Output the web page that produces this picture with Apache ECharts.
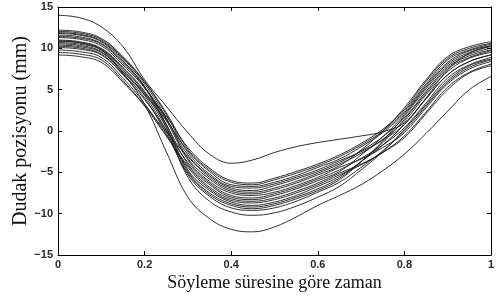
<!doctype html>
<html lang="tr">
<head>
    <meta charset="UTF-8">
    <title>Dudak pozisyonu</title>
    <style>
        * {
            margin: 0;
            padding: 0;
        }

        body {
            background: #fff;
        }

        #chart {
            width: 501px;
            height: 302px;
        }
    </style>
</head>
<body>
<script src="https://cdn.jsdelivr.net/npm/echarts@6/dist/echarts.min.js"></script>
<div id="chart"></div>

<script type="application/javascript">
    // normalised time grid (0 .. 1, step 0.05)
    const timeGrid = [0, 0.05, 0.1, 0.15, 0.2, 0.25, 0.3, 0.35, 0.4, 0.45, 0.5,
        0.55, 0.6, 0.65, 0.7, 0.75, 0.8, 0.85, 0.9, 0.95, 1];

    const xTicks = [0, 0.2, 0.4, 0.6, 0.8, 1];
    const yTicks = [-15, -10, -5, 0, 5, 10, 15];

    // lip position (mm), one array per repetition
    const rep01 = [14, 13.7, 12.6, 10.2, 6.2, 3.0, -0.2, -2.8, -3.9, -3.5, -2.6, -1.9, -1.4, -1.0, -0.6, -0.1, 1.0, 4.0, 7.4, 9.4, 10.3];
    const rep02 = [12.2, 12.0, 11.2, 9.0, 6.0, 2.2, -2.2, -4.7, -6.2, -6.5, -5.9, -5.1, -4.2, -3.1, -1.7, 0.0, 2.4, 5.7, 8.6, 9.8, 10.5];
    const rep03 = [11.9, 11.7, 10.9, 8.7, 5.7, 1.6, -3.3, -5.8, -7.3, -7.6, -7.1, -6.3, -5.3, -4.2, -2.3, 0.0, 2.8, 6.2, 9.0, 10.2, 10.8];
    const rep04 = [11.6, 11.4, 10.6, 8.4, 5.4, 0.8, -4.7, -7.2, -8.6, -9.0, -8.6, -7.8, -6.7, -5.5, -3.7, -1.7, 0.8, 3.9, 6.8, 8.4, 9.2];
    const rep05 = [11.3, 11.1, 10.3, 8.0, 5.2, 1.5, -2.9, -5.4, -6.9, -7.2, -6.6, -5.8, -4.9, -3.8, -2.4, -0.7, 1.6, 4.8, 7.7, 9.1, 9.8];
    const rep06 = [11.0, 10.8, 10.0, 7.7, 4.8, 0.8, -4.0, -6.5, -8.0, -8.3, -7.8, -7.0, -6.0, -4.9, -2.9, -0.7, 2.0, 5.3, 8.1, 9.5, 10.2];
    const rep07 = [10.7, 10.5, 9.8, 7.4, 4.3, 0.0, -5.3, -7.9, -9.3, -9.6, -9.3, -8.5, -7.4, -6.2, -4.4, -2.4, 0.0, 3.0, 5.9, 7.7, 8.6];
    const rep08 = [10.4, 10.2, 9.5, 7.1, 4.4, 1.3, -2.4, -4.9, -6.5, -6.7, -6.2, -5.4, -4.4, -3.4, -1.9, -0.2, 2.2, 5.5, 8.3, 9.7, 10.3];
    const rep09 = [10.1, 9.9, 9.2, 6.8, 3.8, 0.1, -3.8, -6.3, -7.8, -8.1, -7.6, -6.8, -5.8, -4.7, -3.3, -1.7, 0.4, 3.4, 6.4, 8.0, 8.9];
    const rep10 = [9.8, 9.6, 8.9, 6.4, 3.3, -0.5, -4.4, -7.0, -8.4, -8.7, -8.3, -7.5, -6.5, -5.3, -4.1, -2.6, -0.6, 2.3, 5.3, 7.1, 8.1];
    const rep11 = [9.5, 9.3, 8.6, 6.1, 3.1, -0.1, -3.1, -5.6, -7.1, -7.4, -6.9, -6.1, -5.1, -4.0, -2.7, -1.0, 1.2, 4.4, 7.2, 8.8, 9.5];
    const rep12 = [9.2, 9.0, 8.3, 5.9, 3.0, -0.6, -4.2, -6.8, -8.2, -8.5, -8.1, -7.3, -6.3, -5.1, -4.0, -2.6, -0.8, 2.1, 5.0, 7.0, 7.9];
    const rep13 = [11.8, 11.6, 10.8, 8.5, 5.3, 0.5, -5.6, -8.5, -9.8, -10.2, -9.9, -9.1, -8.0, -6.7, -4.7, -2.5, 0.2, 3.2, 6.1, 7.9, 8.7];
    const rep14 = [10.85, 10.65, 9.9, 7.6, 4.6, 0.4, -4.9, -7.5, -8.8, -9.2, -8.8, -8.0, -7.0, -5.7, -3.7, -1.4, 1.4, 4.6, 7.5, 8.9, 9.7];
    const rep15 = [11.45, 11.25, 10.5, 8.2, 5.3, 1.3, -3.5, -6.1, -7.5, -7.8, -7.4, -6.6, -5.6, -4.4, -3.4, -2.0, -0.2, 2.8, 5.7, 7.5, 8.4];
    const rep16 = [12.05, 11.85, 11.05, 8.85, 5.9, 2.0, -2.6, -5.2, -6.7, -6.9, -6.4, -5.6, -4.7, -3.6, -2.5, -1.1, 0.8, 3.9, 6.8, 8.4, 9.2];
    const rep17 = [10.25, 10.05, 9.3, 6.9, 4.0, -0.3, -5.1, -7.7, -9.0, -9.4, -9.0, -8.2, -7.2, -5.9, -3.7, -1.2, 1.8, 5.1, 7.9, 9.3, 10.0];
    const rep18 = [10.55, 10.35, 9.6, 7.2, 4.6, 1.8, -2.0, -4.5, -6.0, -6.3, -5.7, -4.9, -4.0, -2.9, -1.5, 0.2, 2.6, 6.0, 8.8, 10.0, 10.6];
    const rep19 = [10.9, 10.7, 9.8, 7.0, 3.2, -2.5, -8.0, -10.6, -11.9, -12.2, -11.6, -10.4, -9.0, -7.8, -6.5, -4.8, -2.8, -0.3, 2.4, 5.0, 6.6];

    const repetitions = [rep01, rep02, rep03, rep04, rep05, rep06, rep07, rep08, rep09, rep10,
        rep11, rep12, rep13, rep14, rep15, rep16, rep17, rep18, rep19];

    const fmtNum = function (v) {
        return String(v).replace('-', '\u2212');
    };

    const tickLabel = {
        fontFamily: 'Liberation Sans',
        fontWeight: 'bold',
        fontSize: 11,
        color: '#2a2a2a'
    };

    const chart = echarts.init(document.getElementById('chart'), null, {renderer: 'canvas'});

    const lineSeries = repetitions.map(function (rep) {
        return {
            type: 'line',
            data: rep.map(function (v, i) {
                return [timeGrid[i], v];
            }),
            smooth: 0.4,
            symbol: 'none',
            silent: true,
            lineStyle: {color: '#1a1a1a', width: 1, opacity: 0.9}
        };
    });

    const frameAxis = {
        axisLine: {show: true, onZero: false, lineStyle: {color: '#000', width: 1}},
        axisTick: {show: true, inside: true, length: 4, lineStyle: {color: '#000'}},
        splitLine: {show: false}
    };

    chart.setOption({
        animation: false,
        backgroundColor: '#fff',
        grid: {left: 58, right: 10, top: 7, bottom: 47, outerBoundsMode: 'none'},
        xAxis: [
            Object.assign({
                type: 'value',
                position: 'bottom',
                min: xTicks[0],
                max: xTicks[xTicks.length - 1],
                interval: 0.2,
                name: 'Söyleme süresine göre zaman',
                nameLocation: 'middle',
                nameGap: 19,
                nameMoveOverlap: false,
                nameTextStyle: {fontFamily: 'Liberation Serif', fontSize: 18, color: '#111'},
                axisLabel: Object.assign({margin: 4, formatter: fmtNum}, tickLabel)
            }, frameAxis),
            Object.assign({
                type: 'value',
                position: 'top',
                min: xTicks[0],
                max: xTicks[xTicks.length - 1],
                interval: 0.2,
                axisLabel: {show: false}
            }, frameAxis)
        ],
        yAxis: [
            Object.assign({
                type: 'value',
                position: 'left',
                min: yTicks[0],
                max: yTicks[yTicks.length - 1],
                interval: 5,
                name: 'Dudak pozisyonu (mm)',
                nameLocation: 'middle',
                nameGap: 27,
                nameMoveOverlap: false,
                nameTextStyle: {fontFamily: 'Liberation Serif', fontSize: 20, color: '#111'},
                axisLabel: Object.assign({margin: 5, formatter: fmtNum}, tickLabel)
            }, frameAxis),
            Object.assign({
                type: 'value',
                position: 'right',
                min: yTicks[0],
                max: yTicks[yTicks.length - 1],
                interval: 5,
                axisLabel: {show: false}
            }, frameAxis)
        ],
        series: lineSeries
    });
</script>
</body>
</html>
